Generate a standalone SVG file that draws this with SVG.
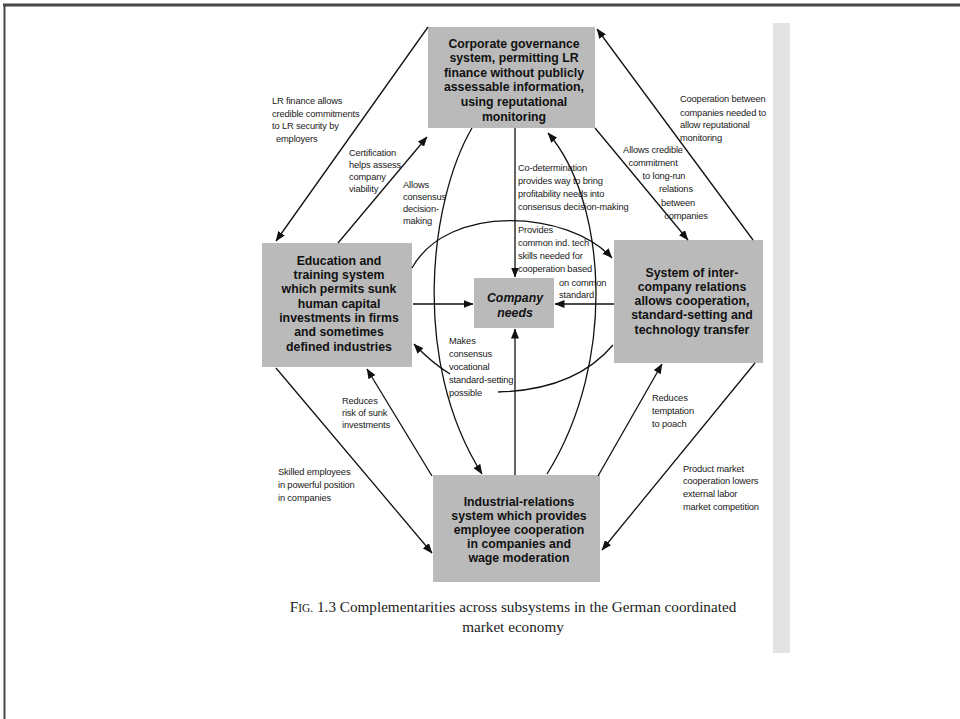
<svg xmlns="http://www.w3.org/2000/svg" width="960" height="719" viewBox="0 0 960 719">
<style>
.frame{stroke:#474747;fill:none}
.box{fill:#bababa}
.bt{font-family:"Liberation Sans",Arial,sans-serif;font-weight:bold;font-size:12.3px;fill:#111;text-anchor:middle}
.bi{font-style:italic}
.lb{font-family:"Liberation Sans",Arial,sans-serif;font-size:9.3px;letter-spacing:-0.15px;fill:#1a1a1a}
.lc{text-anchor:middle}
.cn{fill:none;stroke:#111;stroke-width:1.3}
.ar{marker-end:url(#ah)}
.cap{font-family:"Liberation Serif","Times New Roman",serif;font-size:15.2px;fill:#222;text-anchor:middle}
</style>
<defs>
<marker id="ah" markerUnits="userSpaceOnUse" markerWidth="10" markerHeight="8" refX="9.5" refY="4" orient="auto">
<path d="M0,0 L10,4 L0,8 z" fill="#111"/>
</marker>
</defs>
<rect width="960" height="719" fill="#ffffff"/>
<line class="frame" x1="3" y1="5" x2="960" y2="5" stroke-width="3"/>
<line class="frame" x1="4.5" y1="4" x2="4.5" y2="719" stroke-width="2"/>
<rect x="773" y="23" width="17" height="630" fill="#e3e3e3"/>

<g id="corporate">
<rect class="box" x="428" y="27" width="167" height="101" fill="#b6b6b6"/>
<text class="bt" x="514" y="47.5">Corporate governance</text>
<text class="bt" x="514" y="62">system, permitting LR</text>
<text class="bt" x="514" y="76.7">finance without publicly</text>
<text class="bt" x="514" y="91.3">assessable information,</text>
<text class="bt" x="514" y="105.9">using reputational</text>
<text class="bt" x="514" y="120.5">monitoring</text>
</g>

<g id="education">
<rect class="box" x="262" y="243" width="150" height="124"/>
<text class="bt" x="339" y="264.5">Education and</text>
<text class="bt" x="339" y="278.8">training system</text>
<text class="bt" x="339" y="293.2">which permits sunk</text>
<text class="bt" x="339" y="307.6">human capital</text>
<text class="bt" x="339" y="322">investments in firms</text>
<text class="bt" x="339" y="336.4">and sometimes</text>
<text class="bt" x="339" y="350.8">defined industries</text>
</g>

<g id="company-needs">
<rect class="box" x="474" y="278" width="80" height="50" fill="#c4c4c4"/>
<text class="bt bi" x="515" y="301.5">Company</text>
<text class="bt bi" x="515" y="316.5">needs</text>
</g>

<g id="inter-company">
<rect class="box" x="614" y="240" width="149" height="123" fill="#bdbdbd"/>
<text class="bt" x="692" y="276.5">System of inter-</text>
<text class="bt" x="692" y="290.8">company relations</text>
<text class="bt" x="692" y="305">allows cooperation,</text>
<text class="bt" x="692" y="319.3">standard-setting and</text>
<text class="bt" x="692" y="333.5">technology transfer</text>
</g>

<g id="industrial">
<rect class="box" x="433" y="475" width="167" height="107"/>
<text class="bt" x="519" y="505.5">Industrial-relations</text>
<text class="bt" x="519" y="519.5">system which provides</text>
<text class="bt" x="519" y="533.5">employee cooperation</text>
<text class="bt" x="519" y="547.5">in companies and</text>
<text class="bt" x="519" y="561.5">wage moderation</text>
</g>

<g id="connectors">
<line class="cn ar" x1="428" y1="27" x2="276" y2="241"/>
<line class="cn ar" x1="338" y1="243" x2="427" y2="137"/>
<line class="cn ar" x1="753" y1="240" x2="597" y2="29"/>
<line class="cn ar" x1="595" y1="128" x2="688" y2="240"/>
<line class="cn ar" x1="276" y1="368" x2="432" y2="553"/>
<line class="cn ar" x1="432" y1="476" x2="367" y2="369"/>
<line class="cn ar" x1="598" y1="476" x2="662" y2="364"/>
<line class="cn ar" x1="755" y1="363" x2="602" y2="550"/>
<line class="cn ar" x1="515" y1="128" x2="515" y2="277"/>
<line class="cn ar" x1="515" y1="475" x2="515" y2="329"/>
<line class="cn ar" x1="413" y1="304" x2="473" y2="304"/>
<line class="cn ar" x1="614" y1="304" x2="555" y2="304"/>
<path class="cn ar" d="M412,268 C448,203 568,210 612,258"/>
<path class="cn" d="M613,345 Q575,390 498,392"/>
<path class="cn ar" d="M450,374 Q432,363 414,344"/>
<path class="cn ar" d="M472,128 C430,200 410,360 482,474"/>
<path class="cn ar" d="M547,474 C618,360 606,200 548,133"/>
</g>

<g id="labels">
<g class="lb">
<text x="272" y="103.5">LR finance allows</text>
<text x="272" y="116.5">credible commitments</text>
<text x="272" y="128.5">to LR security by</text>
<text x="276" y="141.5">employers</text>
</g>
<g class="lb">
<text x="349" y="155.5">Certification</text>
<text x="349" y="167.5">helps assess</text>
<text x="349" y="179.5">company</text>
<text x="349" y="191.5">viability</text>
</g>
<g class="lb">
<text x="403" y="187.5">Allows</text>
<text x="403" y="199.5">consensus</text>
<text x="403" y="211.5">decision-</text>
<text x="403" y="223.5">making</text>
</g>
<g class="lb">
<text x="518" y="170.5">Co-determination</text>
<text x="518" y="183.5">provides way to bring</text>
<text x="518" y="196.5">profitability needs into</text>
<text x="518" y="209.5">consensus decision-making</text>
</g>
<g class="lb">
<text x="518" y="232.5">Provides</text>
<text x="518" y="245.5">common ind. tech</text>
<text x="518" y="258.5">skills needed for</text>
<text x="518" y="271.5">cooperation based</text>
<text x="559" y="285.5">on common</text>
<text x="559" y="297.5">standard</text>
</g>
<g class="lb">
<text x="680" y="101.5">Cooperation between</text>
<text x="680" y="115.5">companies needed to</text>
<text x="680" y="127.5">allow reputational</text>
<text x="680" y="140.5">monitoring</text>
</g>
<g class="lb lc">
<text x="653" y="152.5">Allows credible</text>
<text x="653" y="165.5">commitment</text>
<text x="664" y="178.5">to long-run</text>
<text x="676" y="191.5">relations</text>
<text x="678" y="205.5">between</text>
<text x="686" y="218.5">companies</text>
</g>
<g class="lb">
<text x="449" y="343.5">Makes</text>
<text x="449" y="356.5">consensus</text>
<text x="449" y="370">vocational</text>
<text x="449" y="382.5">standard-setting</text>
<text x="449" y="395.5">possible</text>
</g>
<g class="lb">
<text x="342" y="403.5">Reduces</text>
<text x="342" y="415.5">risk of sunk</text>
<text x="342" y="427.5">investments</text>
</g>
<g class="lb">
<text x="278" y="474.5">Skilled employees</text>
<text x="278" y="487.5">in powerful position</text>
<text x="278" y="500.5">in companies</text>
</g>
<g class="lb">
<text x="652" y="400.5">Reduces</text>
<text x="652" y="413.5">temptation</text>
<text x="652" y="426.5">to poach</text>
</g>
<g class="lb">
<text x="683" y="471.5">Product market</text>
<text x="683" y="483.5">cooperation lowers</text>
<text x="683" y="496.5">external labor</text>
<text x="683" y="509.5">market competition</text>
</g>
</g>

<g id="caption">
<text class="cap" x="513" y="612">F<tspan font-size="11.5">IG.</tspan> 1.3  Complementarities across subsystems in the German coordinated</text>
<text class="cap" x="513" y="632">market economy</text>
</g>
</svg>
